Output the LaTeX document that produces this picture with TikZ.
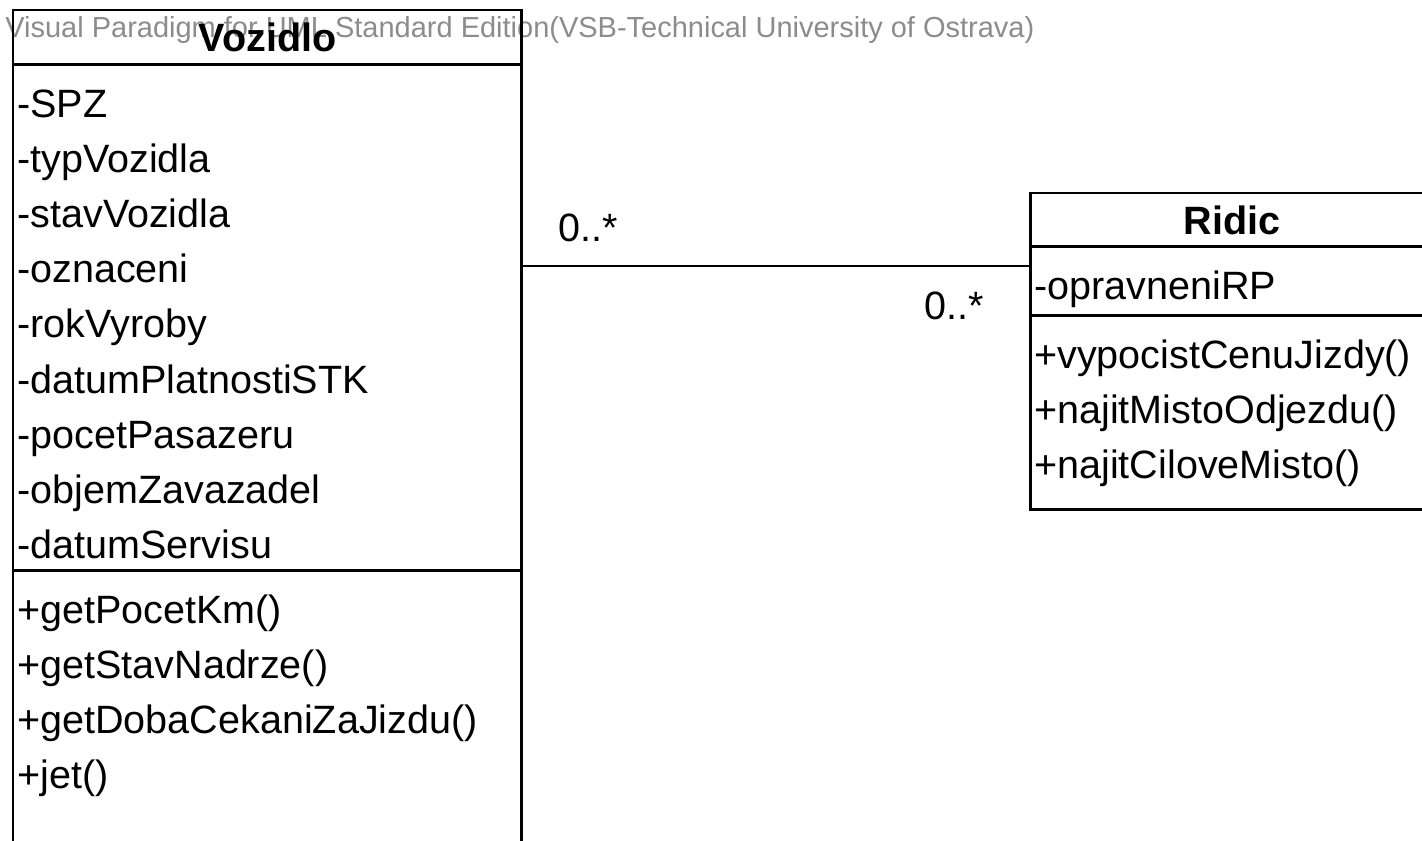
\documentclass[tikz,border=0pt]{standalone}
\usepackage{fontspec}
\setmainfont{Liberation Sans}
\usetikzlibrary{positioning}

\begin{document}
\begin{tikzpicture}[
    x=0.02cm, y=-0.02cm,
    % Node styles
    compartment/.style={
        rectangle, draw=black, line width=1.7pt,
        outer sep=0pt, inner sep=0pt,
        minimum width=#1,
    },
    title/.style={
        font=\fontsize{22.5}{27}\selectfont\bfseries,
    },
    member/.style={
        anchor=north west, inner sep=0pt,
        minimum height=1.09cm, text height=17pt, text depth=5.6pt,
        font=\fontsize{22.5}{27}\selectfont,
    },
    mult/.style={
        inner sep=0pt, font=\fontsize{22.5}{27}\selectfont,
    },
    watermark/.style={
        anchor=west, inner sep=0pt, text=black!45,
        font=\fontsize{16.5}{20}\selectfont,
    },
    assoc/.style={
        draw=black, line width=1.7pt,
    },
]

\useasboundingbox (0,0) rectangle (1422,841);
\clip (0,0) rectangle (1422,841);

% === Watermark ===
\node[watermark] (watermark) at (5,30)
    {Visual Paradigm for UML Standard Edition(VSB-Technical University of Ostrava)};

% === Class Vozidlo ===
\node[compartment=10.18cm, minimum height=1.1cm, title, anchor=north west]
    (vozidlo-head) at (13,10) {Vozidlo};
\node[compartment=10.18cm, minimum height=10.12cm, below=0pt of vozidlo-head] (vozidlo-attr) {};
\node[compartment=10.18cm, minimum height=6.2cm, below=0pt of vozidlo-attr] (vozidlo-ops) {};

% attributes
\node[member, below right=0.29cm and 0.08cm of vozidlo-attr.north west] (attr-spz) {-SPZ};
\node[member, below=0pt of attr-spz.south west, anchor=north west] (attr-typ) {-typVozidla};
\node[member, below=0pt of attr-typ.south west, anchor=north west] (attr-stav) {-stavVozidla};
\node[member, below=0pt of attr-stav.south west, anchor=north west] (attr-ozn) {-oznaceni};
\node[member, below=0pt of attr-ozn.south west, anchor=north west] (attr-rok) {-rokVyroby};
\node[member, below=0pt of attr-rok.south west, anchor=north west] (attr-stk) {-datumPlatnostiSTK};
\node[member, below=0pt of attr-stk.south west, anchor=north west] (attr-pas) {-pocetPasazeru};
\node[member, below=0pt of attr-pas.south west, anchor=north west] (attr-obj) {-objemZavazadel};
\node[member, below=0pt of attr-obj.south west, anchor=north west] (attr-srv) {-datumServisu};

% operations
\node[member, below right=0.29cm and 0.08cm of vozidlo-ops.north west] (op-km) {+getPocetKm()};
\node[member, below=0pt of op-km.south west, anchor=north west] (op-nadrz) {+getStavNadrze()};
\node[member, below=0pt of op-nadrz.south west, anchor=north west] (op-doba) {+getDobaCekaniZaJizdu()};
\node[member, below=0pt of op-doba.south west, anchor=north west] (op-jet) {+jet()};

% === Class Ridic ===
\node[compartment=8.08cm, minimum height=1.08cm, title, anchor=north west]
    (ridic-head) at (1030,193) {Ridic};
\node[compartment=8.08cm, minimum height=1.38cm, below=0pt of ridic-head] (ridic-attr) {};
\node[compartment=8.08cm, minimum height=3.88cm, below=0pt of ridic-attr] (ridic-ops) {};

\node[member, below right=0.29cm and 0.08cm of ridic-attr.north west] (attr-rp) {-opravneniRP};
\node[member, below right=0.29cm and 0.08cm of ridic-ops.north west] (op-cena) {+vypocistCenuJizdy()};
\node[member, below=0pt of op-cena.south west, anchor=north west] (op-odjezd) {+najitMistoOdjezdu()};
\node[member, below=0pt of op-odjezd.south west, anchor=north west] (op-cil) {+najitCiloveMisto()};

% === Association ===
\coordinate (assoc-level) at (0,266);
\draw[assoc] (vozidlo-attr.east |- assoc-level) -- (ridic-attr.west |- assoc-level)
    node[mult, pos=0, above right=0.46cm and 0.7cm] (mult-vozidlo) {0..*}
    node[mult, pos=1, below left=0.48cm and 0.9cm] (mult-ridic) {0..*};

\end{tikzpicture}
\end{document}
